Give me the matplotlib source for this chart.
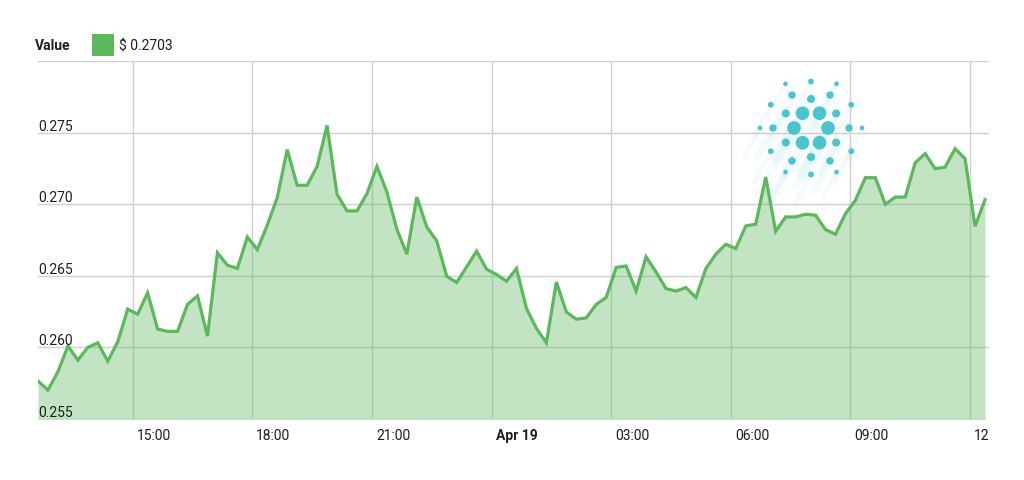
"""ADA / USD price, last 24 h, 15-minute steps (area chart with Cardano mark)."""
import matplotlib
matplotlib.use("Agg")
import matplotlib.pyplot as plt
import matplotlib.patches as mpatches
from matplotlib.transforms import Bbox, ScaledTranslation, TransformedBbox
import numpy as np
import pandas as pd

plt.rcParams["font.family"] = ["Roboto", "DejaVu Sans"]

# ---------------------------------------------------------------- data
START = "2018-04-18 12:37:30"
PRICES = [
    0.25765, 0.25702, 0.25830, 0.26009, 0.25911, 0.26000, 0.26032, 0.25904,
    0.26039, 0.26267, 0.26232, 0.26381, 0.26128, 0.26112, 0.26112, 0.26300,
    0.26360, 0.26079, 0.26660, 0.26574, 0.26551, 0.26771, 0.26683, 0.26853,
    0.27046, 0.27381, 0.27132, 0.27132, 0.27264, 0.27550, 0.27069, 0.26953,
    0.26953, 0.27074, 0.27264, 0.27085, 0.26825, 0.26651, 0.27050, 0.26841,
    0.26743, 0.26497, 0.26453, 0.26562, 0.26672, 0.26546, 0.26509, 0.26462,
    0.26551, 0.26272, 0.26133, 0.26032, 0.26457, 0.26248, 0.26197, 0.26206,
    0.26300, 0.26349, 0.26558, 0.26569, 0.26393, 0.26632, 0.26527, 0.26411,
    0.26393, 0.26418, 0.26349, 0.26551, 0.26651, 0.26720, 0.26690, 0.26848,
    0.26860, 0.27190, 0.26811, 0.26911, 0.26911, 0.26930, 0.26923, 0.26823,
    0.26790, 0.26934, 0.27027, 0.27185, 0.27185, 0.26999, 0.27050, 0.27050,
    0.27290, 0.27353, 0.27248, 0.27259, 0.27388, 0.27318, 0.26846, 0.27032,
]
Y_TICKS = [0.255, 0.260, 0.265, 0.270, 0.275, 0.280]
X_TICKS = ["2018-04-18 15:00", "2018-04-18 18:00", "2018-04-18 21:00",
           "2018-04-19 00:00", "2018-04-19 03:00", "2018-04-19 06:00",
           "2018-04-19 09:00", "2018-04-19 12:00"]
X_LABELS = ["15:00", "18:00", "21:00", "Apr 19", "03:00", "06:00", "09:00", "12:00"]
X_END = "2018-04-19 12:28:30"

GREEN = "#5cb85c"
TEAL = "#4ac4cd"
GRID = "#d0d0d0"
TEXT = "#1e1e1e"

times = pd.date_range(START, periods=len(PRICES), freq="15min")

fig = plt.figure(figsize=(10.24, 4.8), dpi=100)
ax = fig.add_axes([38 / 1024, 1 - 419 / 480, 951 / 1024, 358 / 480])

ax.fill_between(times, PRICES, 0.25, color=GREEN, alpha=0.37, lw=0, zorder=2)
ax.plot(times, PRICES, color=GREEN, lw=2.3, zorder=3, solid_joinstyle="miter")

ax.set_xlim(pd.Timestamp(START), pd.Timestamp(X_END))
ax.set_ylim(Y_TICKS[0], Y_TICKS[-1])
ax.set_yticks(Y_TICKS)
ax.set_yticklabels([])
ax.set_xticks(pd.to_datetime(X_TICKS))
ax.set_xticklabels(X_LABELS)
ax.tick_params(length=0)
ax.tick_params(axis="x", pad=7, labelsize=10, labelcolor=TEXT)
ax.grid(True, color=GRID, lw=1.0)
ax.set_axisbelow(True)
for s in ax.spines.values():
    s.set_visible(False)

# x labels sit just right of their gridline; the last one is cut at the chart edge
clip = TransformedBbox(Bbox([[0, 0], [989 / 1024, 1]]), fig.transFigure)
shift = ScaledTranslation(4 / 100, 0, fig.dpi_scale_trans)
for lab in ax.get_xticklabels():
    lab.set_ha("left")
    lab.set_transform(lab.get_transform() + shift)
    lab.set_clip_box(clip)
    lab.set_clip_on(True)
    if lab.get_text() == "Apr 19":
        lab.set_fontweight("bold")

# y labels drawn inside the plot, above their gridline
for v in Y_TICKS[:-1]:
    ax.annotate(f"{v:.3f}", xy=(0, v), xycoords=("axes fraction", "data"),
                xytext=(0.3, 1.5), textcoords="offset points",
                ha="left", va="baseline", fontsize=10, color=TEXT, zorder=4)

# legend
fig.text(35 / 1024, 1 - 46 / 480, "Value", fontsize=10, fontweight="bold",
         color=TEXT, va="center", ha="left")
fig.patches.append(mpatches.Rectangle((92 / 1024, 1 - 56 / 480), 22 / 1024, 22 / 480,
                                      transform=fig.transFigure, color=GREEN, lw=0))
fig.text(119 / 1024, 1 - 46 / 480, f"$ {PRICES[-1]:.4f}", fontsize=10,
         color=TEXT, va="center", ha="left")

# ---------------------------------------------------------------- Cardano mark
lax = fig.add_axes([(811 - 90) / 1024, 1 - (128 + 90) / 480, 180 / 1024, 180 / 480])
lax.set_xlim(-90, 90)
lax.set_ylim(-90, 90)
lax.axis("off")
lax.patch.set_alpha(0)
# (ring radius, angle offset in degrees, dot radius)
rings = [(17, 0, 6.8), (29, 30, 4.0), (38, 0, 3.7), (46.5, 30, 2.9), (51, 0, 2.3)]
for R, off, r in rings:
    for k in range(6):
        a = np.deg2rad(off + 60 * k)
        cx, cy = R * np.cos(a), R * np.sin(a)
        lax.plot([cx + 1, cx - 16], [cy + 2, cy - 30], color=TEAL, alpha=0.06,
                 lw=r * 1.4, solid_capstyle="round")
        lax.add_patch(mpatches.Circle((cx, cy), r, color=TEAL, lw=0))

fig.savefig("out.png", dpi=100)
